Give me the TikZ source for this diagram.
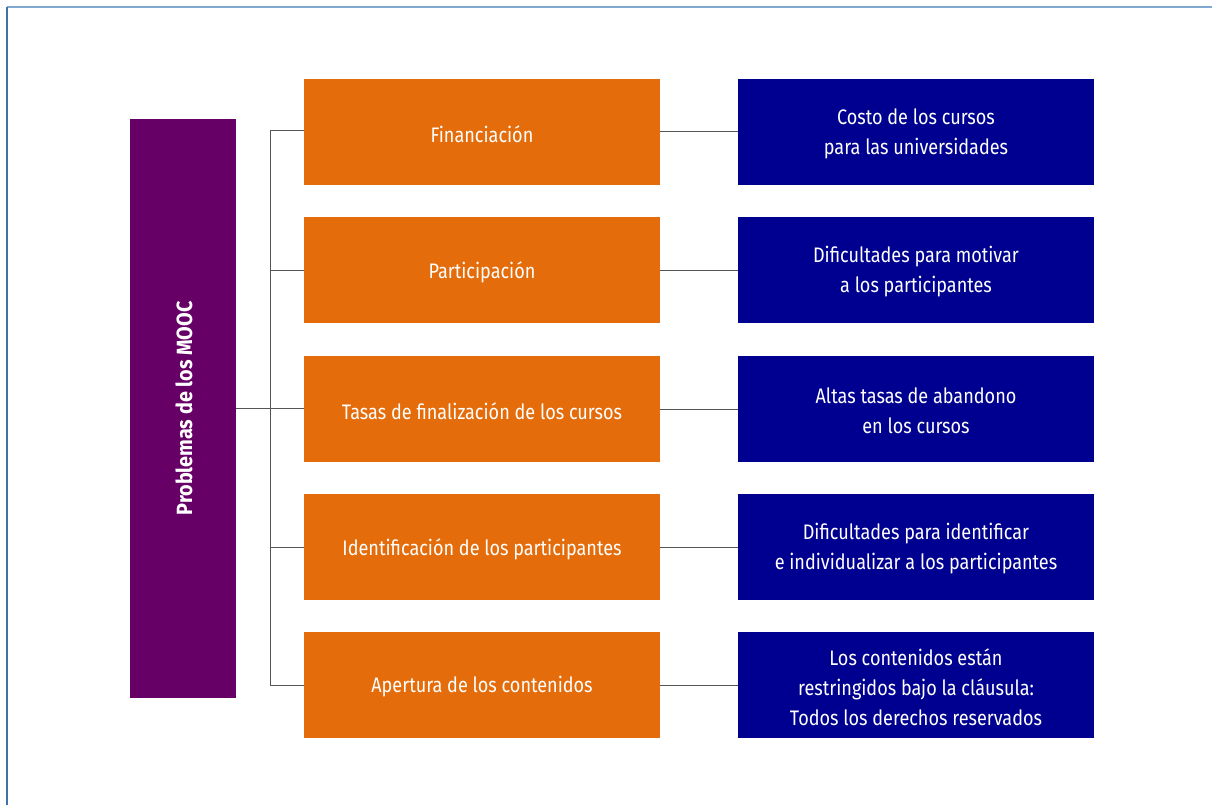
\documentclass[tikz,border=0pt]{standalone}
\usepackage{fontspec}
\setmainfont[FakeStretch=0.86]{Fira Sans}
\newfontfamily\rootfont[FakeStretch=0.9]{Fira Sans}
\definecolor{mpurple}{HTML}{660066}
\definecolor{morange}{HTML}{E46C0A}
\definecolor{mblue}{HTML}{000090}
\definecolor{frametop}{HTML}{7FA9CE}
\definecolor{frameleft}{HTML}{3F73A8}
\definecolor{conn}{HTML}{555555}
\begin{document}
\begin{tikzpicture}[x=1pt,y=-1pt,
  box/.style={rectangle,minimum width=356pt,minimum height=106pt,inner sep=0pt},
  boxtext/.style={label={[text=white,align=center,font=\fontsize{21}{30}\selectfont,yshift=-2pt,inner sep=0pt]center:#1}},
  obox/.style={box,fill=morange,boxtext={#1}},
  bbox/.style={box,fill=mblue,boxtext={#1}},
  link/.style={draw=conn,line width=1pt}]
\useasboundingbox (0,0) rectangle (1212,805);
\fill[white] (0,0) rectangle (1212,805);
\draw[frametop,line width=1.5pt] (7,7) -- (1212,7);
\draw[frameleft,line width=1.5pt] (7,7) -- (7,805);
\node[fill=mpurple,minimum width=106pt,minimum height=579pt,inner sep=0pt] (root) at (183,408.5) {};
\node[rotate=90,text=white,font=\rootfont\bfseries\fontsize{22}{24}\selectfont] (roottxt) at ([xshift=1pt]root.center) {Problemas de los MOOC};
\node[obox={Financiación}] (o1) at (482,132) {};
\node[obox={Participación}] (o2) at (482,270) {};
\node[obox={Tasas de finalización de los cursos}] (o3) at (482,409) {};
\node[obox={Identificación de los participantes}] (o4) at (482,547) {};
\node[obox={Apertura de los contenidos}] (o5) at (482,685) {};
\node[bbox={Costo de los cursos\\para las universidades}] (b1) at (916,132) {};
\node[bbox={Dificultades para motivar\\a los participantes}] (b2) at (916,270) {};
\node[bbox={Altas tasas de abandono\\en los cursos}] (b3) at (916,409) {};
\node[bbox={Dificultades para identificar\\e individualizar a los participantes}] (b4) at (916,547) {};
\node[bbox={Los contenidos están\\restringidos bajo la cláusula:\\Todos los derechos reservados}] (b5) at (916,685) {};
\coordinate (j1) at (270,131);
\coordinate (j5) at (270,685);
\coordinate (jm) at (270,408);
\draw[link] (o1.west |- j1) -- (j1) -- (j5) -- (o5.west |- j5);
\draw[link] (root.east |- jm) -- (o3.west |- jm);
\draw[link] (270,270) -- (o2.west);
\draw[link] (270,547) -- (o4.west);
\foreach \i in {1,...,5} \draw[link] (o\i.east) -- (b\i.west);
\end{tikzpicture}
\end{document}
